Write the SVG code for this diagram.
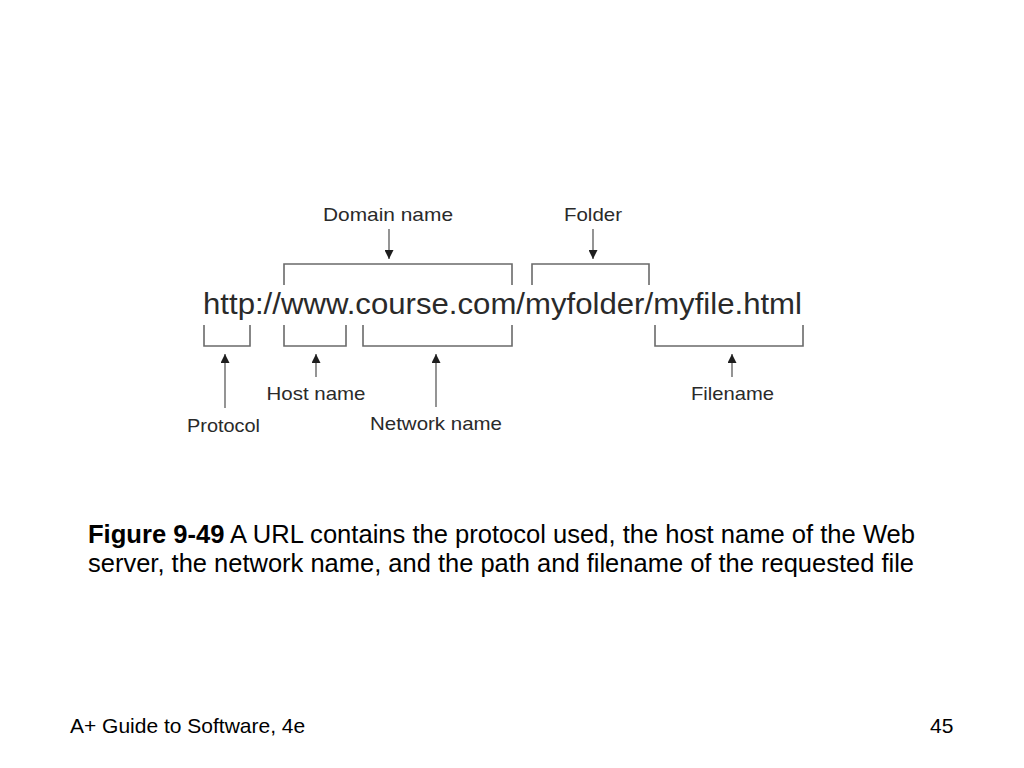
<svg xmlns="http://www.w3.org/2000/svg" width="1024" height="768" viewBox="0 0 1024 768">
<defs>
<style>
.lbl{font-family:"Liberation Sans",Arial,Helvetica,sans-serif;font-size:18.5px;fill:#2a2a2a;text-anchor:middle}
.url{font-family:"Liberation Sans",Arial,Helvetica,sans-serif;font-size:29.5px;fill:#2a2a2a}
.cap{font-family:"Liberation Sans",Arial,Helvetica,sans-serif;font-size:25.5px;fill:#000}
.foot{font-family:"Liberation Sans",Arial,Helvetica,sans-serif;font-size:21px;fill:#000}
.br{fill:none;stroke:#6a6a6a;stroke-width:1.6}
.ar{fill:none;stroke:#7a7a7a;stroke-width:1.6}
</style>
<marker id="ah" viewBox="0 0 10 10" refX="10" refY="5" markerWidth="11" markerHeight="9" markerUnits="userSpaceOnUse" orient="auto">
<path d="M0,0 L10,5 L0,10 Z" fill="#1e1e1e"/>
</marker>
</defs>
<rect width="1024" height="768" fill="#fff"/>

<g id="url"><text class="url" x="203" y="314" textLength="599" lengthAdjust="spacingAndGlyphs">http://www.course.com/myfolder/myfile.html</text></g>

<g id="domain-name">
<text class="lbl" x="388" y="221" textLength="130" lengthAdjust="spacingAndGlyphs">Domain name</text>
<path class="br" d="M284,285 V264 H512 V285"/>
</g>
<g id="folder">
<text class="lbl" x="593" y="221" textLength="58" lengthAdjust="spacingAndGlyphs">Folder</text>
<path class="br" d="M532,285 V264 H649 V285"/>
</g>
<g id="protocol">
<text class="lbl" x="223.5" y="432" textLength="73" lengthAdjust="spacingAndGlyphs">Protocol</text>
<path class="br" d="M204,325 V346 H250 V325"/>
</g>
<g id="host-name">
<text class="lbl" x="316" y="400" textLength="99" lengthAdjust="spacingAndGlyphs">Host name</text>
<path class="br" d="M284,325 V346 H346 V325"/>
</g>
<g id="network-name">
<text class="lbl" x="436" y="430" textLength="132" lengthAdjust="spacingAndGlyphs">Network name</text>
<path class="br" d="M363,325 V346 H512 V325"/>
</g>
<g id="filename">
<text class="lbl" x="732.5" y="400" textLength="83" lengthAdjust="spacingAndGlyphs">Filename</text>
<path class="br" d="M655,325 V346 H803 V325"/>
</g>

<g id="connectors">
<line class="ar" x1="389" y1="229" x2="389" y2="259" marker-end="url(#ah)"/>
<line class="ar" x1="593" y1="229" x2="593" y2="259" marker-end="url(#ah)"/>
<line class="ar" x1="225" y1="408" x2="225" y2="354" marker-end="url(#ah)"/>
<line class="ar" x1="316" y1="377" x2="316" y2="354" marker-end="url(#ah)"/>
<line class="ar" x1="436" y1="407" x2="436" y2="354" marker-end="url(#ah)"/>
<line class="ar" x1="732" y1="377" x2="732" y2="354" marker-end="url(#ah)"/>
</g>

<g id="caption">
<text class="cap" x="88" y="543" textLength="827" lengthAdjust="spacingAndGlyphs"><tspan font-weight="bold">Figure 9-49</tspan> A URL contains the protocol used, the host name of the Web</text>
<text class="cap" x="88" y="572" textLength="826" lengthAdjust="spacingAndGlyphs">server, the network name, and the path and filename of the requested file</text>
</g>

<g id="footer">
<text class="foot" x="70" y="733">A+ Guide to Software, 4e</text>
<text class="foot" x="930" y="733">45</text>
</g>
</svg>
